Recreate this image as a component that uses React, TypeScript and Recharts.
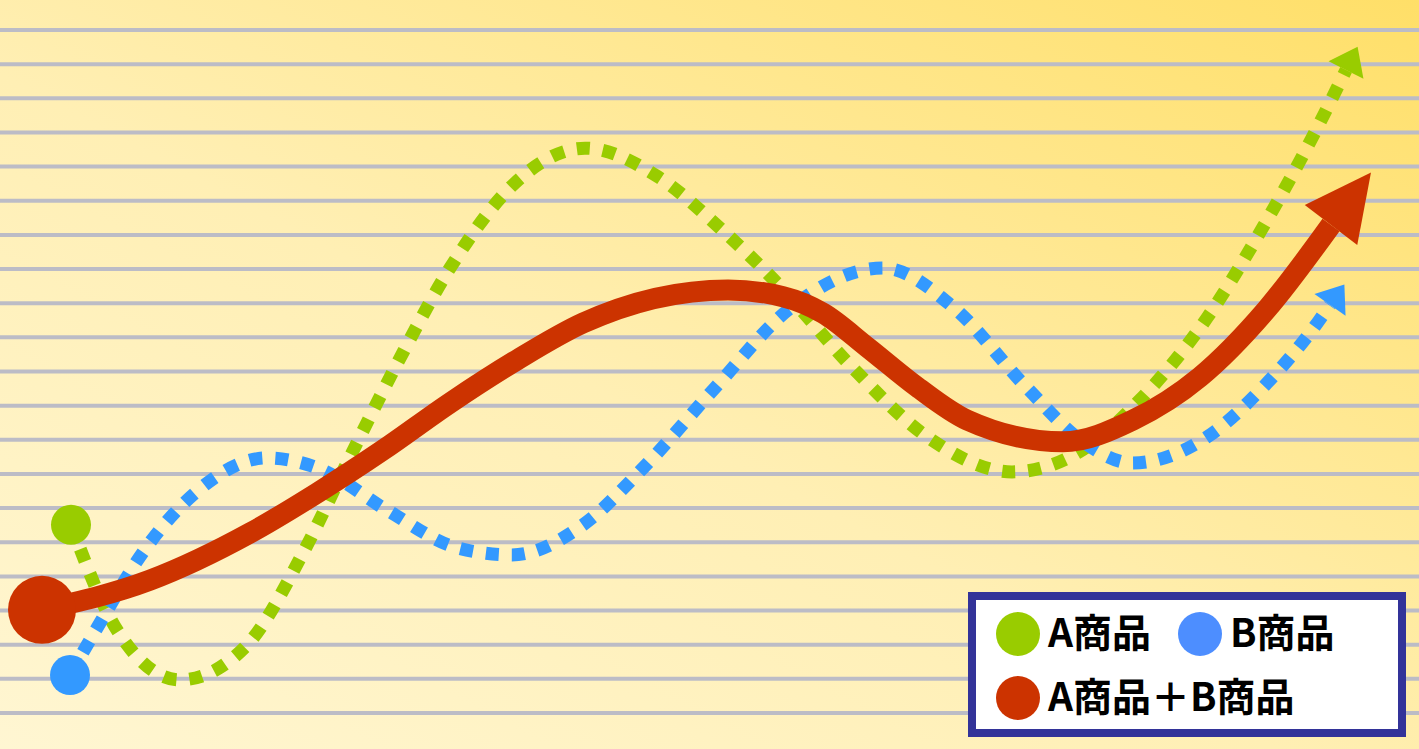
import React from 'react';
import { LineChart, Line, XAxis, YAxis, CartesianGrid, Legend } from 'recharts';

// ---- data (x position along the period axis, value on the 0..20 grid scale) ----
const A_X = [7.1, 11.7, 18.0, 24.7, 30.2, 35.0, 39.8, 45.0, 51.5, 58.5, 65.8, 72.0, 77.7, 85.0, 92.9, 101.2, 107.7, 114.0, 120.7, 126.3, 131.5, 134.6];
const A_VALUES = [5.51, 2.43, 0.97, 1.99, 4.63, 7.5, 10.28, 13.03, 15.52, 16.54, 15.7, 14.2, 12.59, 10.19, 8.05, 7.06, 7.61, 9.17, 11.57, 14.23, 17.01, 18.83];

const B_X = [7.0, 10.0, 14.3, 19.5, 26.7, 31.8, 38.7, 45.8, 51.2, 58.3, 64.3, 71.5, 78.8, 88.3, 95.3, 102.6, 108.3, 113.2, 120.7, 126.5, 131.8, 133.0];
const B_VALUES = [1.11, 2.64, 4.71, 6.44, 7.47, 7.17, 5.94, 4.83, 4.63, 5.51, 7.17, 9.52, 11.8, 13.03, 11.89, 9.55, 7.94, 7.32, 8.08, 9.6, 11.45, 11.95];

const AB_X = [4.2, 15.0, 25.0, 31.7, 38.3, 45.0, 51.7, 58.3, 72.8, 78.3, 82.3, 86.7, 91.7, 96.7, 106.3, 113.3, 120.0, 126.7, 133.1];
const AB_VALUES = [3.02, 3.89, 5.27, 6.44, 7.7, 9.08, 10.34, 11.42, 12.39, 12.19, 11.71, 10.72, 9.55, 8.58, 7.94, 8.58, 9.84, 11.83, 14.29];

const GRID_TICKS = [0, 1, 2, 3, 4, 5, 6, 7, 8, 9, 10, 11, 12, 13, 14, 15, 16, 17, 18, 19, 20];
const SERIES_NAMES = ['A商品', 'B商品', 'A商品＋B商品'];

const toData = (xs: number[], ys: number[]) => xs.map((x, i) => ({ x, y: ys[i] }));

const dataA = toData(A_X, A_VALUES);
const dataB = toData(B_X, B_VALUES);
const dataAB = toData(AB_X, AB_VALUES);

type Cfg = {
  name: string;
  color: string;
  legendColor: string;
  width: number;
  dash?: string;
  startR: number;
  arrowW: number;
  arrowH: number;
};

const CFG: Cfg[] = [
  { name: SERIES_NAMES[0], color: '#99cc00', legendColor: '#99cc00', width: 13, dash: '13 13', startR: 20, arrowW: 39, arrowH: 26 },
  { name: SERIES_NAMES[1], color: '#3399ff', legendColor: '#4d8eff', width: 13, dash: '13 13', startR: 20, arrowW: 38, arrowH: 25 },
  { name: SERIES_NAMES[2], color: '#cc3300', legendColor: '#cc3300', width: 21, startR: 34, arrowW: 66, arrowH: 66 },
];

function makeDot(cfg: Cfg, count: number) {
  const seen: { x: number; y: number }[] = [];
  return (props: any) => {
    const { cx, cy, index } = props;
    const key = `${cfg.name}-dot-${index}`;
    if (cx == null || cy == null) return <g key={key} />;
    seen[index] = { x: cx, y: cy };
    if (index === 0) {
      return <circle key={key} cx={cx} cy={cy} r={cfg.startR} fill={cfg.color} />;
    }
    if (index === count - 1) {
      const prev = seen[index - 1];
      const ang = prev ? Math.atan2(cy - prev.y, cx - prev.x) : -Math.PI / 4;
      const ux = Math.cos(ang);
      const uy = Math.sin(ang);
      const nx = -uy;
      const ny = ux;
      const hw = cfg.arrowW / 2;
      const pts = [
        [cx + ux * cfg.arrowH, cy + uy * cfg.arrowH],
        [cx + nx * hw, cy + ny * hw],
        [cx - nx * hw, cy - ny * hw],
      ]
        .map((p) => p.join(','))
        .join(' ');
      return <polygon key={key} points={pts} fill={cfg.color} />;
    }
    return <g key={key} />;
  };
}

const dotA = makeDot(CFG[0], dataA.length);
const dotB = makeDot(CFG[1], dataB.length);
const dotAB = makeDot(CFG[2], dataAB.length);

const ITEM_POS = [
  { left: 20, top: 12 },
  { left: 202, top: 12 },
  { left: 20, top: 76 },
];

const renderLegend = (props: any) => {
  const payload: any[] = (props && props.payload) || [];
  const items = SERIES_NAMES.map((n) => payload.find((p) => p.value === n) || { value: n });
  return (
    <div
      style={{
        width: 438,
        height: 145,
        boxSizing: 'border-box',
        border: '8px solid #333399',
        background: '#ffffff',
        position: 'relative',
        fontFamily: '"Noto Sans CJK JP", "Noto Sans", sans-serif',
      }}
    >
      {items.map((entry, i) => {
        const cfg = CFG.find((c) => c.name === entry.value)!;
        return (
          <div
            key={entry.value}
            style={{
              position: 'absolute',
              left: ITEM_POS[i].left,
              top: ITEM_POS[i].top,
              display: 'flex',
              alignItems: 'center',
              height: 44,
            }}
          >
            <div style={{ width: 44, height: 44, borderRadius: '50%', background: cfg.legendColor, marginRight: 8 }} />
            <span style={{ fontSize: 39, lineHeight: '44px', fontWeight: 700, color: '#000', marginTop: -8, whiteSpace: 'nowrap' }}>
              {entry.value}
            </span>
          </div>
        );
      })}
    </div>
  );
};

export default function App() {
  return (
    <div
      style={{
        position: 'absolute',
        left: 0,
        top: 0,
        width: 1419,
        height: 749,
        overflow: 'hidden',
        background: 'linear-gradient(to top right, #fff6d2 0%, #ffefb4 45%, #ffdf68 100%)',
        fontFamily: '"Noto Sans CJK JP", "Noto Sans", sans-serif',
      }}
    >
      <LineChart width={1419} height={749} margin={{ top: 30, right: 0, bottom: 36, left: 0 }}>
        <CartesianGrid vertical={false} stroke="#bcbcc6" strokeWidth={4} />
        <XAxis type="number" dataKey="x" domain={[0, 141.9]} hide allowDuplicatedCategory={false} />
        <YAxis type="number" domain={[0, 20]} ticks={GRID_TICKS} hide />
        <Legend
          layout="horizontal"
          verticalAlign="middle"
          align="center"
          wrapperStyle={{ left: 968, top: 592, width: 438, height: 145 }}
          content={renderLegend}
        />
        <Line
          data={dataA}
          dataKey="y"
          name={CFG[0].name}
          type="monotone"
          stroke={CFG[0].color}
          strokeWidth={CFG[0].width}
          strokeDasharray={CFG[0].dash}
          dot={dotA}
          activeDot={false}
          isAnimationActive={false}
        />
        <Line
          data={dataB}
          dataKey="y"
          name={CFG[1].name}
          type="monotone"
          stroke={CFG[1].color}
          strokeWidth={CFG[1].width}
          strokeDasharray={CFG[1].dash}
          dot={dotB}
          activeDot={false}
          isAnimationActive={false}
        />
        <Line
          data={dataAB}
          dataKey="y"
          name={CFG[2].name}
          type="monotone"
          stroke={CFG[2].color}
          strokeWidth={CFG[2].width}
          dot={dotAB}
          activeDot={false}
          isAnimationActive={false}
        />
      </LineChart>
    </div>
  );
}
